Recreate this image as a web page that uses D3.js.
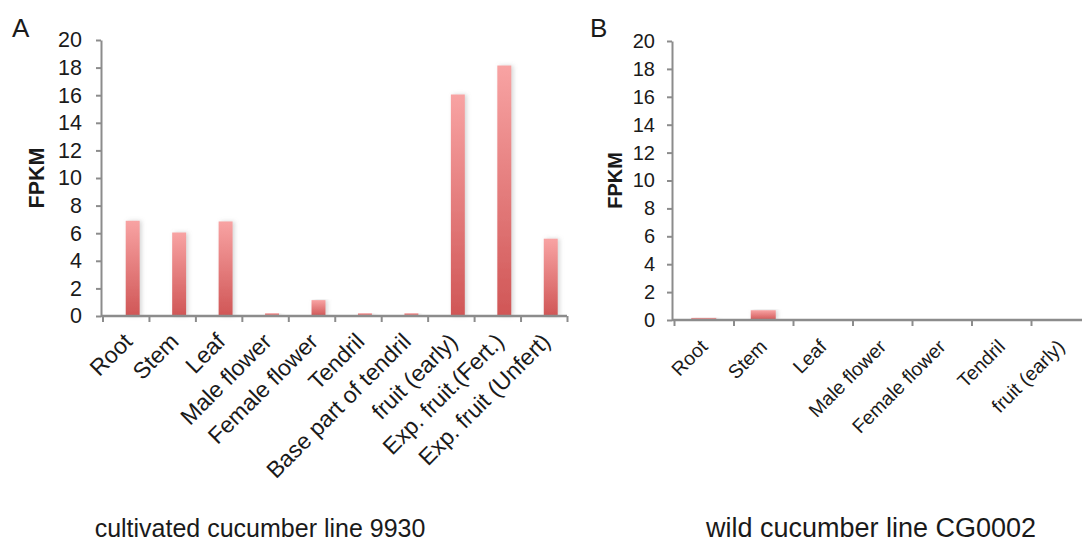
<!DOCTYPE html>
<html>
<head>
<meta charset="utf-8">
<script src="https://cdn.jsdelivr.net/npm/d3@7"></script>
<style>
  body { margin: 0; background: #fff; }
  text { font-family: "Liberation Sans", Arial, sans-serif; fill: #1a1a1a; }
</style>
</head>
<body>
<div id="chart"></div>
<script>
// panel A: cultivated line
var tissuesA = ["Root", "Stem", "Leaf", "Male flower", "Female flower", "Tendril",
  "Base part of tendril", "fruit (early)", "Exp. fruit.(Fert.)", "Exp. fruit (Unfert)"];
var fpkmA = [6.9, 6.05, 6.85, 0.2, 1.15, 0.2, 0.2, 16.05, 18.15, 5.6];

// panel B: wild line
var tissuesB = ["Root", "Stem", "Leaf", "Male flower", "Female flower", "Tendril", "fruit (early)"];
var fpkmB = [0.15, 0.7, 0, 0, 0, 0, 0];

var yTicks = [0, 2, 4, 6, 8, 10, 12, 14, 16, 18, 20];

var width = 1082, height = 543;

var svg = d3.select("#chart").append("svg")
  .attr("width", width)
  .attr("height", height);

var defs = svg.append("defs");
var grad = defs.append("linearGradient")
  .attr("id", "barGrad")
  .attr("x1", 0).attr("y1", 0).attr("x2", 0).attr("y2", 1);
grad.append("stop").attr("offset", "0%").attr("stop-color", "#f8a3a3");
grad.append("stop").attr("offset", "100%").attr("stop-color", "#d05656");

var shadow = defs.append("filter").attr("id", "shadow")
  .attr("x", "-50%").attr("y", "-5%").attr("width", "200%").attr("height", "110%");
shadow.append("feDropShadow")
  .attr("dx", 2).attr("dy", 0).attr("stdDeviation", 2)
  .attr("flood-color", "#888").attr("flood-opacity", 0.35);

function drawPanel(opt) {
  var g = svg.append("g");

  var x = d3.scaleBand().domain(opt.cats).range([opt.x0, opt.x0 + opt.step * opt.cats.length]);
  var xEdge = d3.scaleLinear().domain([0, opt.cats.length]).range(x.range());
  var y = d3.scaleLinear().domain([0, 20]).range([opt.y0, opt.y1]);

  // bars
  g.selectAll(".bar")
    .data(opt.cats.map((c, i) => ({cat: c, v: opt.vals[i]})).filter(d => d.v > 0))
    .enter().append("rect")
    .attr("class", "bar")
    .attr("x", d => x(d.cat) + x.bandwidth() * opt.barOffset)
    .attr("y", d => y(d.v))
    .attr("width", x.bandwidth() * opt.barWidth)
    .attr("height", d => y(0) - y(d.v))
    .attr("fill", "url(#barGrad)")
    .attr("filter", "url(#shadow)");

  // y axis
  var yAxis = d3.axisLeft(y).tickValues(yTicks).tickSize(5).tickPadding(opt.yPad).tickSizeOuter(0);
  var ya = g.append("g")
    .attr("transform", `translate(${opt.axisX},0)`)
    .call(yAxis);
  ya.select(".domain").attr("stroke", "#8c8c8c").attr("stroke-width", 2);
  ya.selectAll(".tick line").attr("stroke", "#8c8c8c").attr("stroke-width", 2);
  ya.selectAll(".tick text").style("font-size", opt.tickFont + "px").attr("fill", "#1a1a1a");

  // x axis with ticks on category boundaries
  var xAxis = d3.axisBottom(xEdge).tickValues(d3.range(opt.cats.length + 1))
    .tickFormat("").tickSize(6).tickSizeOuter(0);
  var xa = g.append("g")
    .attr("transform", `translate(0,${opt.y0})`)
    .call(xAxis);
  xa.select(".domain").attr("stroke", "#8c8c8c").attr("stroke-width", 2.5)
    .attr("d", `M${opt.axisX},0H${opt.x0 + opt.step * opt.cats.length}`);
  xa.selectAll(".tick line").attr("stroke", "#8c8c8c").attr("stroke-width", 2);

  // rotated category labels
  g.selectAll(".xlab")
    .data(opt.cats)
    .enter().append("text")
    .attr("class", "xlab")
    .attr("text-anchor", "end")
    .attr("transform", d => `translate(${x(d) + x.bandwidth() / 2 + opt.labDx},${opt.labY}) rotate(-45)`)
    .style("font-size", opt.labFont + "px")
    .text(d => d);

  // y title
  g.append("text")
    .attr("transform", `translate(${opt.titleX},${(opt.y0 + opt.y1) / 2}) rotate(-90)`)
    .attr("text-anchor", "middle")
    .style("font-size", opt.titleFont + "px")
    .style("font-weight", "bold")
    .text("FPKM");

  // panel letter
  g.append("text")
    .attr("x", opt.letterX).attr("y", 37)
    .style("font-size", "26px")
    .text(opt.letter);

  // caption
  g.append("text")
    .attr("x", opt.capX).attr("y", 537)
    .attr("text-anchor", "middle")
    .style("font-size", opt.capFont + "px")
    .text(opt.caption);
}

drawPanel({
  cats: tissuesA, vals: fpkmA, letter: "A", letterX: 12,
  caption: "cultivated cucumber line 9930", capX: 260, capFont: 25,
  axisX: 101, x0: 102.5, step: 46.45, y0: 316, y1: 40,
  barOffset: 0.5, barWidth: 0.3,
  yPad: 14, tickFont: 21.5, labFont: 23, labDx: 8, labY: 343,
  titleX: 44, titleFont: 21.5
});

drawPanel({
  cats: tissuesB, vals: fpkmB, letter: "B", letterX: 590,
  caption: "wild cucumber line CG0002", capX: 871, capFont: 27,
  axisX: 672, x0: 674, step: 59.5, y0: 320, y1: 41,
  barOffset: 0.29, barWidth: 0.42,
  yPad: 12, tickFont: 20, labFont: 19.5, labDx: 5, labY: 348,
  titleX: 622, titleFont: 20
});
</script>
</body>
</html>
